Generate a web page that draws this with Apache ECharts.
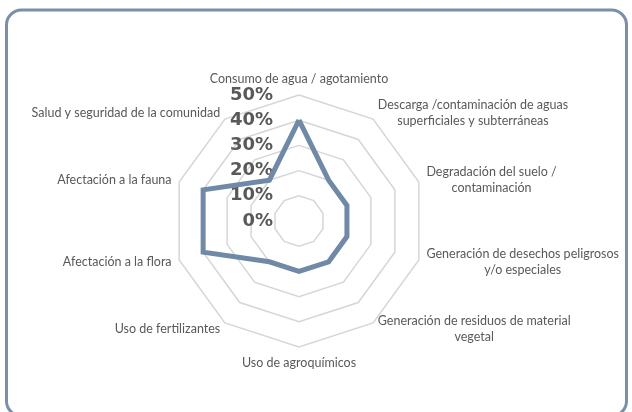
<!DOCTYPE html>
<html>
<head>
<meta charset="utf-8">
<script src="https://cdn.jsdelivr.net/npm/echarts@6/dist/echarts.min.js"></script>
<style>
html,body{margin:0;padding:0;background:#fff;}
#chart{width:632px;height:412px;}
</style>
</head>
<body>
<div id="chart"></div>
<script>
// Indicators in clockwise order starting at the top (as in the reference)
const indicatorNames = [
  'Consumo de agua / agotamiento',
  'Descarga /contaminación de aguas\nsuperficiales y subterráneas',
  'Degradación del suelo /\ncontaminación',
  'Generación de desechos peligrosos\ny/o especiales',
  'Generación de residuos de material\nvegetal',
  'Uso de agroquímicos',
  'Uso de fertilizantes',
  'Afectación a la flora',
  'Afectación a la fauna',
  'Salud y seguridad de la comunidad'
];
const seriesValues = [0.40, 0.20, 0.20, 0.20, 0.20, 0.20, 0.20, 0.40, 0.40, 0.20];
const axisMax = 0.5;
const axisStep = 0.1;

// ECharts places radar indicators counter-clockwise; reorder to get clockwise layout
const order = [0];
for (let i = indicatorNames.length - 1; i >= 1; i--) order.push(i);
const radarIndicators = order.map(i => ({ name: indicatorNames[i], min: 0, max: axisMax }));
const radarValues = order.map(i => seriesValues[i]);

const chart = echarts.init(document.getElementById('chart'), null, { renderer: 'canvas' });
const CX = 299, CY = 221, R = 126;

chart.setOption({
  backgroundColor: '#ffffff',
  animation: false,
  graphic: [{
    type: 'rect',
    shape: { x: 6.5, y: 10, width: 620, height: 406, r: 15 },
    style: { fill: 'none', stroke: '#7890aa', lineWidth: 3 },
    z: 100
  }],
  radar: {
    center: [CX, CY],
    radius: R,
    startAngle: 90,
    splitNumber: 5,
    shape: 'polygon',
    nameGap: 8,
    indicator: radarIndicators,
    axisName: {
      color: '#595959',
      fontFamily: 'Lato',
      fontSize: 12.5,
      formatter: function (name) {
        return name.split('\n').map(s => '{c|' + s + '}').join('\n');
      },
      rich: {
        c: { align: 'center', color: '#595959', fontFamily: 'Lato', fontSize: 12.5, lineHeight: 16 }
      }
    },
    axisLine: { show: false },
    axisTick: { show: false },
    axisLabel: { show: false },
    splitArea: { show: false },
    splitLine: { lineStyle: { color: '#d6d6d6', width: 1.5 } }
  },
  grid: { left: CX, top: CY - R, height: R, width: 1, containLabel: false },
  xAxis: { type: 'value', show: false },
  yAxis: {
    type: 'value',
    min: 0,
    max: axisMax,
    interval: axisStep,
    axisLine: { show: false },
    axisTick: { show: false },
    splitLine: { show: false },
    axisLabel: {
      margin: 26,
      color: '#595959',
      fontFamily: 'DejaVu Sans',
      fontWeight: 'bold',
      fontSize: 18,
      formatter: v => Math.round(v * 100) + '%'
    }
  },
  series: [{
    type: 'radar',
    symbol: 'none',
    lineStyle: { color: '#7089a6', width: 5, join: 'miter' },
    data: [{ value: radarValues }]
  }]
});
</script>
</body>
</html>
